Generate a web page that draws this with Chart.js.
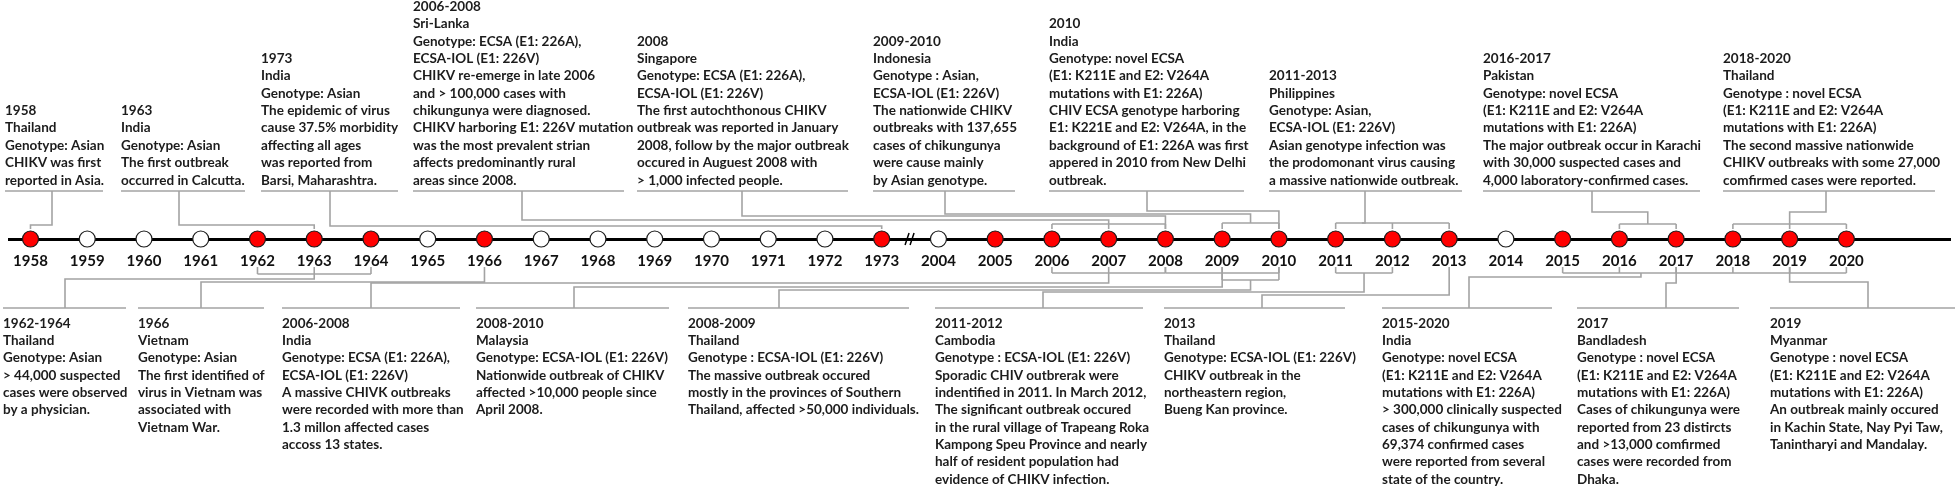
<!DOCTYPE html>
<html><head><meta charset="utf-8">
<script src="https://cdn.jsdelivr.net/npm/chart.js@4.4.1/dist/chart.umd.min.js"></script>
<style>html,body{margin:0;padding:0;background:#fff;}#wrap{width:1960px;height:488px;position:relative;}</style>
</head><body><div id="wrap"><canvas id="c"></canvas></div>
<script>
// ---------- DATA ----------
const years = ['1958','1959','1960','1961','1962','1963','1964','1965','1966','1967','1968','1969','1970','1971','1972','1973',
               '2004','2005','2006','2007','2008','2009','2010','2011','2012','2013','2014','2015','2016','2017','2018','2019','2020'];
const outbreak = [1,0,0,0,1,1,1,0,1,0,0,0,0,0,0,1, 0,1,1,1,1,1,1,1,1,1,0,1,1,1,1,1,1];

const topNoteText = [
 ['1958','Thailand','Genotype: Asian','CHIKV was first','reported in Asia.'],
 ['1963','India','Genotype: Asian','The first outbreak','occurred in Calcutta.'],
 ['1973','India','Genotype: Asian','The epidemic of virus','cause 37.5% morbidity','affecting all ages','was reported from','Barsi, Maharashtra.'],
 ['2006-2008','Sri-Lanka','Genotype: ECSA (E1: 226A),','ECSA-IOL (E1: 226V)','CHIKV re-emerge in late 2006','and > 100,000 cases with','chikungunya were diagnosed.','CHIKV harboring E1: 226V mutation','was the most prevalent strian','affects predominantly rural','areas since 2008.'],
 ['2008','Singapore','Genotype: ECSA (E1: 226A),','ECSA-IOL (E1: 226V)','The first autochthonous CHIKV','outbreak was reported in January','2008, follow by the major outbreak','occured in Auguest 2008 with','> 1,000 infected people.'],
 ['2009-2010','Indonesia','Genotype : Asian,','ECSA-IOL (E1: 226V)','The nationwide CHIKV','outbreaks with 137,655','cases of chikungunya','were cause mainly','by Asian genotype.'],
 ['2010','India','Genotype: novel ECSA','(E1: K211E and E2: V264A','mutations with E1: 226A)','CHIV ECSA genotype harboring','E1: K221E and E2: V264A, in the','background of E1: 226A was first','appered in 2010 from New Delhi','outbreak.'],
 ['2011-2013','Philippines','Genotype: Asian,','ECSA-IOL (E1: 226V)','Asian genotype infection was','the prodomonant virus causing','a massive nationwide outbreak.'],
 ['2016-2017','Pakistan','Genotype: novel ECSA','(E1: K211E and E2: V264A','mutations with E1: 226A)','The major outbreak occur in Karachi','with 30,000 suspected cases and','4,000 laboratory-confirmed cases.'],
 ['2018-2020','Thailand','Genotype : novel ECSA','(E1: K211E and E2: V264A','mutations with E1: 226A)','The second massive nationwide','CHIKV outbreaks with some 27,000','comfirmed cases were reported.']
];
const topNoteYears = [['1958'],['1963'],['1973'],['2006','2007','2008'],['2008'],['2009','2010'],['2010'],['2011','2012','2013'],['2016','2017'],['2018','2019','2020']];

const bottomNoteText = [
 ['1962-1964','Thailand','Genotype: Asian','> 44,000 suspected','cases were observed','by a physician.'],
 ['1966','Vietnam','Genotype: Asian','The first identified of','virus in Vietnam was','associated with','Vietnam War.'],
 ['2006-2008','India','Genotype: ECSA (E1: 226A),','ECSA-IOL (E1: 226V)','A massive CHIVK outbreaks','were recorded with more than','1.3 millon affected cases','accoss 13 states.'],
 ['2008-2010','Malaysia','Genotype: ECSA-IOL (E1: 226V)','Nationwide outbreak of CHIKV','affected >10,000 people since','April 2008.'],
 ['2008-2009','Thailand','Genotype : ECSA-IOL (E1: 226V)','The massive outbreak occured','mostly in the provinces of Southern','Thailand, affected >50,000 individuals.'],
 ['2011-2012','Cambodia','Genotype : ECSA-IOL (E1: 226V)','Sporadic CHIV outbrerak were','indentified in 2011. In March 2012,','The significant outbreak occured','in the rural village of Trapeang Roka','Kampong Speu Province and nearly','half of resident population had','evidence of CHIKV infection.'],
 ['2013','Thailand','Genotype: ECSA-IOL (E1: 226V)','CHIKV outbreak in the','northeastern region,','Bueng Kan province.'],
 ['2015-2020','India','Genotype: novel ECSA','(E1: K211E and E2: V264A','mutations with E1: 226A)','> 300,000 clinically suspected','cases of chikungunya with','69,374 confirmed cases','were reported from several','state of the country.'],
 ['2017','Bandladesh','Genotype : novel ECSA','(E1: K211E and E2: V264A','mutations with E1: 226A)','Cases of chikungunya were','reported from 23 distircts','and >13,000 comfirmed','cases were recorded from','Dhaka.'],
 ['2019','Myanmar','Genotype : novel ECSA','(E1: K211E and E2: V264A','mutations with E1: 226A)','An outbreak mainly occured','in Kachin State, Nay Pyi Taw,','Tanintharyi and Mandalay.']
];
const bottomNoteYears = [['1962','1963','1964'],['1966'],['2006','2007','2008'],['2008','2009','2010'],['2009','2010'],['2011','2012'],['2013'],['2015','2016','2017','2018','2019','2020'],['2017'],['2019']];

// ---------- LAYOUT (pixels) ----------
const L = {
  axisY: 239, lineH: 17.35,
  top: { lastTextY: 180, ruleY: 191, markerEdge: 229 },
  bot: { labelEdge: 267, ruleY: 308, firstTextY: 323 },
  xMin: -0.3665, xMax: 33.84
};
const topLayout = [
  {x:5,    x2:103,  vx:52,   hy:225},
  {x:121,  x2:245,  vx:179,  hy:225},
  {x:261,  x2:398,  vx:330,  hy:226},
  {x:413,  x2:624,  vx:522,  hy:220, bY:224, join:0.5},
  {x:637,  x2:848,  vx:742,  hy:216},
  {x:873,  x2:1015, vx:945,  hy:214, bY:223, join:0.5},
  {x:1049, x2:1244, vx:1147, hy:211},
  {x:1269, x2:1462, vx:1365, hy:223, bY:223, join:0.23},
  {x:1483, x2:1700, vx:1592, hy:212, bY:224, join:0.5},
  {x:1723, x2:1935, vx:1826, hy:212, bY:224, join:0.5}
];
const bottomLayout = [
  {x:3,    x2:126,  vx:65,   hy:279, bY:274, join:0.5},
  {x:138,  x2:264,  vx:201,  hy:282},
  {x:282,  x2:460,  vx:371,  hy:283, bY:273, join:0.5},
  {x:476,  x2:669,  vx:574,  hy:287, bY:273, join:0.5},
  {x:688,  x2:909,  vx:779,  hy:290, bY:280, join:0.5},
  {x:935,  x2:1143, vx:1043, hy:292, bY:273, join:0.5},
  {x:1164, x2:1345, vx:1262, hy:295},
  {x:1382, x2:1552, vx:1469, hy:277, bY:273, join:0.276},
  {x:1577, x2:1739, vx:1666, hy:283},
  {x:1770, x2:1955, vx:1868, hy:282}
];
const STY = {
  grey:'#a3a3a3', greyW:1.6, text:'#1c1c1c',
  topFont:'bold 14px Lato', botFont:'bold 14px Lato',
  topRef:['The major outbreak occur in Karachi',218],
  botRef:['Thailand, affected >50,000 individuals.',231]
};

// ---------- PLUGIN: notes & connectors ----------
const notesPlugin = {
  id:'notes',
  beforeDatasetsDraw(chart){
    const ctx = chart.ctx, xs = chart.scales.x;
    const px = yr => xs.getPixelForValue(years.indexOf(yr));
    ctx.save();
    ctx.strokeStyle = STY.grey; ctx.lineWidth = STY.greyW; ctx.lineCap='butt';
    const seg = pts => { ctx.beginPath(); ctx.moveTo(pts[0][0],pts[0][1]); for(let i=1;i<pts.length;i++) ctx.lineTo(pts[i][0],pts[i][1]); ctx.stroke(); };

    topLayout.forEach((b,i)=>{
      const ys = topNoteYears[i], xsP = ys.map(px);
      seg([[b.x, L.top.ruleY],[b.x2, L.top.ruleY]]);
      if (ys.length === 1) {
        seg([[b.vx, L.top.ruleY],[b.vx,b.hy],[xsP[0],b.hy],[xsP[0],L.top.markerEdge]]);
      } else {
        const x0 = Math.min(...xsP), x1 = Math.max(...xsP);
        seg([[x0,b.bY],[x1,b.bY]]);
        xsP.forEach(x=>seg([[x,b.bY],[x,L.top.markerEdge]]));
        const jx = x0 + (x1-x0)*b.join;
        seg([[b.vx, L.top.ruleY],[b.vx,b.hy],[jx,b.hy],[jx,b.bY]]);
      }
    });
    bottomLayout.forEach((b,i)=>{
      const ys = bottomNoteYears[i], xsP = ys.map(px);
      seg([[b.x, L.bot.ruleY],[b.x2, L.bot.ruleY]]);
      if (ys.length === 1) {
        seg([[xsP[0],L.bot.labelEdge],[xsP[0],b.hy],[b.vx,b.hy],[b.vx,L.bot.ruleY]]);
      } else {
        const x0 = Math.min(...xsP), x1 = Math.max(...xsP);
        seg([[x0,b.bY],[x1,b.bY]]);
        xsP.forEach(x=>seg([[x,L.bot.labelEdge],[x,b.bY]]));
        const jx = x0 + (x1-x0)*b.join;
        seg([[jx,b.bY],[jx,b.hy],[b.vx,b.hy],[b.vx,L.bot.ruleY]]);
      }
    });

    ctx.fillStyle = STY.text; ctx.textBaseline='middle'; ctx.textAlign='left';
    ctx.font = STY.topFont;
    const sxT = STY.topRef[1]/ctx.measureText(STY.topRef[0]).width;
    topNoteText.forEach((lines,i)=>{
      const b = topLayout[i], n = lines.length;
      lines.forEach((t,k)=>{
        const y = L.top.lastTextY - (n-1-k)*L.lineH;
        ctx.save(); ctx.translate(b.x,y); ctx.scale(sxT,1); ctx.fillText(t,0,0); ctx.restore();
      });
    });
    ctx.font = STY.botFont;
    const sxB = STY.botRef[1]/ctx.measureText(STY.botRef[0]).width;
    bottomNoteText.forEach((lines,i)=>{
      const b = bottomLayout[i];
      lines.forEach((t,k)=>{
        const y = L.bot.firstTextY + k*L.lineH;
        ctx.save(); ctx.translate(b.x,y); ctx.scale(sxB,1); ctx.fillText(t,0,0); ctx.restore();
      });
    });

    const bx = xs.getPixelForValue(years.indexOf('1973')+0.5), ay = chart.chartArea.bottom;
    ctx.strokeStyle='#000'; ctx.lineWidth=1.5;
    seg([[bx-5,ay+6],[bx-1,ay-6]]);
    seg([[bx+0,ay+6],[bx+4,ay-6]]);
    ctx.restore();
  }
};

Chart.defaults.font.family = 'Lato';
new Chart(document.getElementById('c'), {
  type:'scatter',
  data:{ datasets:[{
    data: years.map((y,i)=>({x:i,y:0})),
    pointRadius:8, pointHoverRadius:8,
    pointBackgroundColor: outbreak.map(v=>v?'#ff0000':'#ffffff'),
    pointBorderColor:'#1a1a1a', pointBorderWidth:1.2,
    clip:false
  }]},
  options:{
    responsive:true, maintainAspectRatio:false, animation:false, devicePixelRatio:1,
    layout:{ padding:{ left:0, right:0, top:0, bottom: 488-L.axisY-30 } },
    plugins:{ legend:{display:false}, tooltip:{enabled:false} },
    scales:{
      x:{ type:'linear', position:'bottom', min:L.xMin, max:L.xMax,
          afterFit: s => { s.height = 30; },
          afterBuildTicks: s => { s.ticks = years.map((_,i)=>({value:i})); },
          grid:{ display:false, drawTicks:false },
          border:{ display:true, color:'#000', width:3 },
          ticks:{ autoSkip:false, maxRotation:0, padding:13, color:'#111',
                  font:{ family:'Lato', weight:'bold', size:15 },
                  callback: v => years[v] ?? '' } },
      y:{ display:false, min:0, max:1 }
    }
  },
  plugins:[notesPlugin]
});
</script></body></html>
